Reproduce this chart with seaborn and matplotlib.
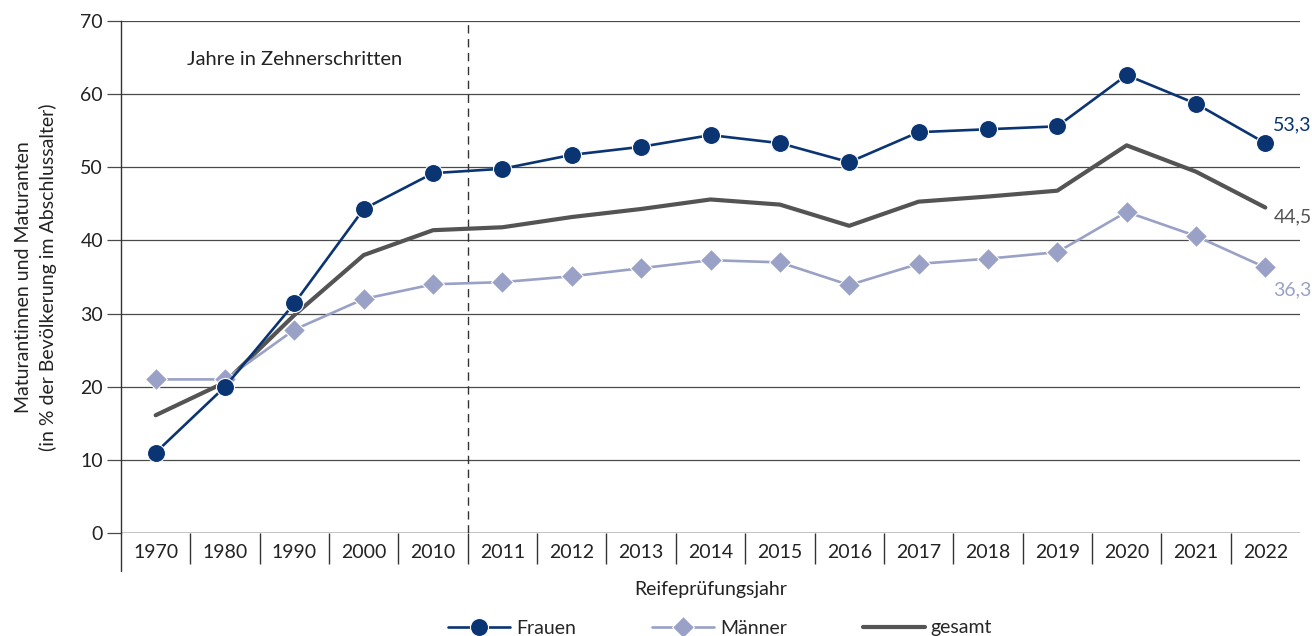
import numpy as np
import pandas as pd
import matplotlib
matplotlib.use("Agg")
import matplotlib.pyplot as plt
import seaborn as sns

# Daten
jahre = ["1970", "1980", "1990", "2000", "2010", "2011", "2012", "2013", "2014",
         "2015", "2016", "2017", "2018", "2019", "2020", "2021", "2022"]
frauen = [11.0, 20.0, 31.4, 44.3, 49.2, 49.8, 51.7, 52.8, 54.4,
          53.3, 50.7, 54.8, 55.2, 55.6, 62.6, 58.7, 53.3]
maenner = [21.0, 21.0, 27.8, 32.0, 34.0, 34.3, 35.1, 36.2, 37.3,
           37.0, 33.9, 36.8, 37.5, 38.4, 43.9, 40.6, 36.3]
gesamt = [16.1, 20.6, 29.8, 38.0, 41.4, 41.8, 43.2, 44.3, 45.6,
          44.9, 42.0, 45.3, 46.0, 46.8, 53.0, 49.4, 44.5]

C_FRAUEN = "#0b3472"
C_MAENNER = "#99a1c6"
C_GESAMT = "#545454"
C_GRID = "#4a4a4a"

sns.set_theme(style="white")
plt.rcParams["font.family"] = ["Lato", "DejaVu Sans"]

df = pd.DataFrame({"Jahr": jahre, "Frauen": frauen, "Männer": maenner, "gesamt": gesamt})

fig = plt.figure(figsize=(13.12, 6.36), dpi=100)
ax = fig.add_axes([121 / 1312, 103 / 636, 1179 / 1312, 512 / 636])

sns.lineplot(data=df, x="Jahr", y="Frauen", sort=False, ax=ax, color=C_FRAUEN,
             linewidth=1.9, marker="o", markersize=13, markeredgecolor="white",
             markeredgewidth=0.8, label="Frauen", zorder=5)
sns.lineplot(data=df, x="Jahr", y="Männer", sort=False, ax=ax, color=C_MAENNER,
             linewidth=1.9, marker="D", markersize=11, markeredgecolor="white",
             markeredgewidth=0.8, label="Männer", zorder=4)
sns.lineplot(data=df, x="Jahr", y="gesamt", sort=False, ax=ax, color=C_GESAMT,
             linewidth=3.0, label="gesamt", zorder=3)

ax.set_xlim(-0.5, len(jahre) - 0.5)
ax.set_ylim(0, 70)
ax.set_yticks(np.arange(0, 71, 10))
ax.yaxis.grid(True, color=C_GRID, linewidth=0.9)
ax.xaxis.grid(False)
for s in ["top", "right", "bottom"]:
    ax.spines[s].set_visible(False)
ax.spines["left"].set_color("#333333")
ax.spines["left"].set_linewidth(1.0)
ax.axhline(0, color="#333333", linewidth=1.0, zorder=2)

# y-Ticks als Verlängerung der Gitterlinien
ax.tick_params(axis="y", which="major", length=10, width=0.9, color=C_GRID,
               left=True, labelsize=14, pad=3, labelcolor="#222222")
# Kategorie-Trennstriche unter der Achse
ax.set_xticks(np.arange(len(jahre)))
ax.set_xticklabels(jahre)
ax.set_xticks(np.arange(0.5, len(jahre) - 0.5, 1), minor=True)
ax.tick_params(axis="x", which="major", length=0, labelsize=14, pad=8, labelcolor="#222222")
ax.tick_params(axis="x", which="minor", length=22, width=1.0, color="#333333",
               bottom=True, direction="out")
ax.plot([-0.5, -0.5], [0, -0.075], transform=ax.get_xaxis_transform(),
        color="#333333", linewidth=1.0, clip_on=False)

# Trennlinie Zehnerschritte / Einzeljahre
ax.axvline(4.5, color="#333333", linewidth=1.0, linestyle=(0, (6, 4)), zorder=2)
ax.text(2.0, 64.7, "Jahre in Zehnerschritten", ha="center", va="center",
        fontsize=14.5, color="#222222")

# Endwerte
ax.annotate("53,3", (16, frauen[-1]), xytext=(8, 18), textcoords="offset pixels",
            fontsize=14, color=C_FRAUEN, va="center", ha="left")
ax.annotate("44,5", (16, gesamt[-1]), xytext=(8, -9), textcoords="offset pixels",
            fontsize=14, color=C_GESAMT, va="center", ha="left")
ax.annotate("36,3", (16, maenner[-1]), xytext=(8, -22), textcoords="offset pixels",
            fontsize=14, color=C_MAENNER, va="center", ha="left")

ax.set_xlabel("Reifeprüfungsjahr", fontsize=14, color="#222222", labelpad=9)
ax.set_ylabel("Maturantinnen und Maturanten\n(in % der Bevölkerung im Abschlussalter)",
              fontsize=14, color="#222222", labelpad=17, linespacing=1.45)

handles, labels = ax.get_legend_handles_labels()
ax.get_legend().remove()
fig.legend(handles, labels, loc="center", bbox_to_anchor=(720 / 1312, 8 / 636),
           ncol=3, frameon=False, fontsize=14, handlelength=3.2,
           columnspacing=3.9, handletextpad=0.3)

fig.savefig("out.png", dpi=100, facecolor="white")
